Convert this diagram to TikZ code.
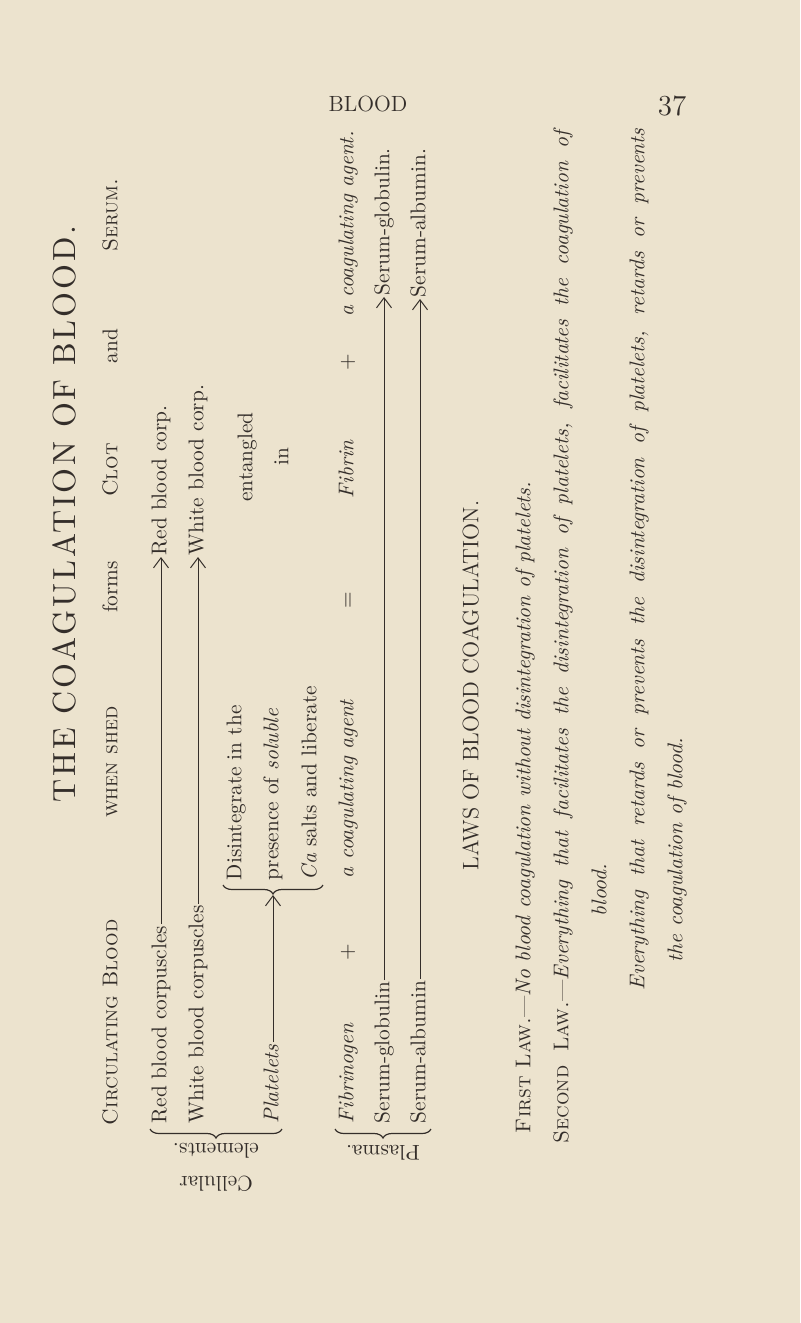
\documentclass[tikz,border=0pt]{standalone}
\usepackage{fontspec}
\usetikzlibrary{arrows.meta,decorations.pathreplacing}
\definecolor{paper}{RGB}{236,227,206}
\definecolor{ink}{RGB}{52,46,42}
\newfontfamily\titlefont{lmroman10-regular.otf}[LetterSpace=9]
\tikzset{
  txt/.style={inner sep=0.75pt, text=ink, font=\fontsize{10.66}{13}\selectfont, text height=7.5pt, text depth=2.1pt},
  vtxt/.style={txt, rotate=90},
  upside/.style={inner sep=0.75pt, text=ink, font=\fontsize{10.66}{16.5}\selectfont, rotate=180, align=center},
  arr/.style={-{Straight Barb[length=5pt,width=7.5pt]}, draw=ink, line width=0.5pt},
  brc/.style={decorate, decoration={brace, amplitude=4.5pt}, draw=ink, line width=0.6pt},
}
\begin{document}
\begin{tikzpicture}[x=0.5pt,y=0.5pt,yscale=-1,xscale=1]
%uncomment if require: \path (0,1323); %set diagram left start at 0, and has height of 1323
\fill [paper] (0,0) rectangle (800,1323);
\useasboundingbox (0,0) rectangle (800,1323);

% Text Node
\draw (368,106) node (runhead) [txt, font=\fontsize{11}{13}\selectfont] {BLOOD};
% Text Node
\draw (672,110) node (pageno) [txt, font=\fontsize{14.5}{16}\selectfont] {37};
% Text Node
\draw (64,514) node (title) [vtxt, text height=11pt, text depth=0pt, font=\titlefont\fontsize{16}{18}\selectfont] {THE COAGULATION OF BLOOD.};

% Text Node
\draw (112,1127) node (circ) [vtxt, anchor=west] {\textsc{Circulating Blood}};
% Text Node
\draw (112,762) node (shed) [vtxt] {\textsc{when shed}};
% Text Node
\draw (112,587) node (forms) [vtxt] {forms};
% Text Node
\draw (112,470) node (clot) [vtxt] {\textsc{Clot}};
% Text Node
\draw (112,346) node (and) [vtxt] {and};
% Text Node
\draw (112,215) node (serum) [vtxt] {\textsc{Serum.}};

% Text Node
\draw (161,1125) node (redA) [vtxt, anchor=west] {Red blood corpuscles};
% Text Node
\draw (161,557) node (redB) [vtxt, anchor=west] {Red blood corp.};
% Text Node
\draw (198,1125) node (whiteA) [vtxt, anchor=west] {White blood corpuscles};
% Text Node
\draw (198,557) node (whiteB) [vtxt, anchor=west] {White blood corp.};
% Text Node
\draw (273,1125) node (plat) [vtxt, anchor=west] {\textit{Platelets}};

% Text Node
\draw (236,882) node (dis) [vtxt, anchor=west] {Disintegrate in the};
% Text Node
\draw (273,882) node (pres) [vtxt, anchor=west] {presence of \textit{soluble}};
% Text Node
\draw (311,882) node (ca) [vtxt, anchor=west] {\textit{Ca} salts and liberate};
% Text Node
\draw (247,457) node (entangled) [vtxt] {entangled};
% Text Node
\draw (283,457) node (in) [vtxt] {in};

% Text Node
\draw (348,1125) node (fibgen) [vtxt, anchor=west] {\textit{Fibrinogen}};
% Text Node
\draw (348,952) node (plusA) [vtxt] {+};
% Text Node
\draw (348,880) node (agentA) [vtxt, anchor=west] {\textit{a coagulating agent}};
% Text Node
\draw (348,600) node (equal) [vtxt] {=};
% Text Node
\draw (348,469) node (fibrin) [vtxt] {\textit{Fibrin}};
% Text Node
\draw (348,362) node (plusB) [vtxt] {+};
% Text Node
\draw (348,318) node (agentB) [vtxt, anchor=west] {\textit{a coagulating agent.}};

% Text Node
\draw (384,1125) node (globA) [vtxt, anchor=west] {Serum-globulin};
% Text Node
\draw (384,297) node (globB) [vtxt, anchor=west] {Serum-globulin.};
% Text Node
\draw (420,1125) node (albA) [vtxt, anchor=west] {Serum-albumin};
% Text Node
\draw (420,299) node (albB) [vtxt, anchor=west] {Serum-albumin.};

%Straight Lines
\draw [arr] (redA.east) -- (redB.west);
%Straight Lines
\draw [arr] (whiteA.east) -- (whiteB.west);
%Straight Lines
\draw [arr] (globA.east) -- (globB.west);
%Straight Lines
\draw [arr] (albA.east) -- (albB.west);

%Shape: Brace
\draw [brc] (323,885) -- (223,885);
\coordinate (distip) at (273,895);
%Straight Lines
\draw [arr] (plat.east) -- (distip);
%Shape: Brace
\draw [brc] (282,1129) -- (150,1129);
%Shape: Brace
\draw [brc] (431,1129) -- (335,1129);

% Text Node
\draw (216,1167) node (cellular) [upside] {Cellular\\elements.};
% Text Node
\draw (383,1153) node (plasma) [upside] {Plasma.};

% Text Node
\draw (473,872) node (lawshead) [vtxt, anchor=west, font=\fontsize{11.2}{13}\selectfont] {LAWS OF BLOOD COAGULATION.};
% Text Node
\draw (525,1135) node (lawone) [vtxt, anchor=west] {\textsc{First Law.}---\textit{No blood coagulation without disintegration of platelets.}};
% Text Node
\draw (563,1145) node (lawtwo) [vtxt, anchor=west] {\makebox[507.5pt][s]{\textsc{Second Law.}---\textit{Everything that facilitates the disintegration of platelets, facilitates the coagulation of}}};
% Text Node
\draw (601,918) node (lawtwob) [vtxt, anchor=west] {\textit{blood.}};
% Text Node
\draw (639,992) node (lawthree) [vtxt, anchor=west] {\makebox[431pt][s]{\textit{Everything that retards or prevents the disintegration of platelets, retards or prevents}}};
% Text Node
\draw (677,964) node (lawthreeb) [vtxt, anchor=west] {\textit{the coagulation of blood.}};

\end{tikzpicture}
\end{document}
